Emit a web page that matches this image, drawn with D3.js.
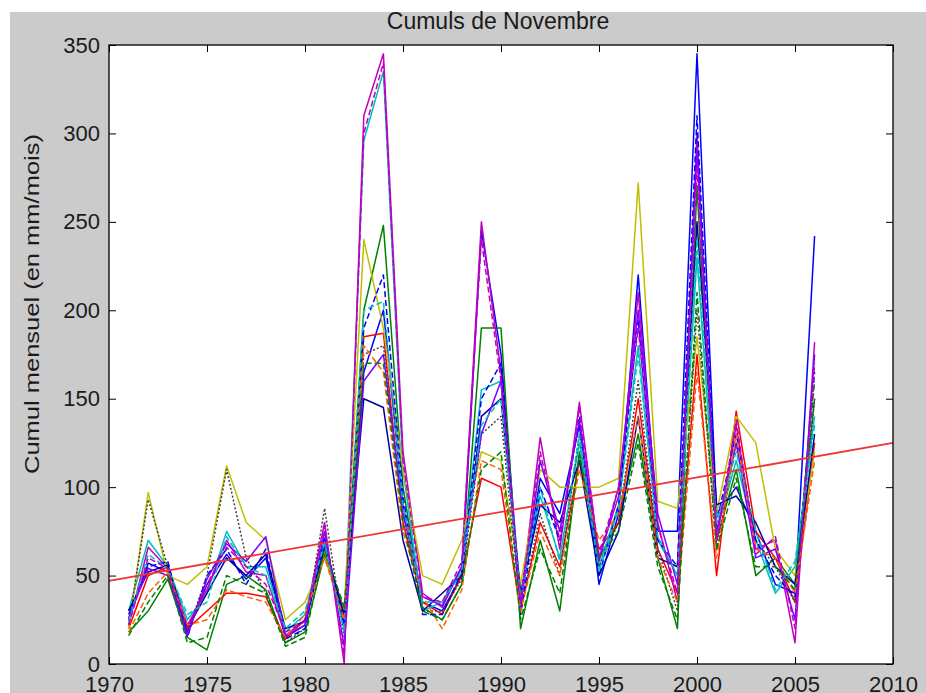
<!DOCTYPE html>
<html>
<head>
<meta charset="utf-8">
<script src="https://cdn.jsdelivr.net/npm/d3@7/dist/d3.min.js"></script>
<style>
body { margin: 0; background: #fff; }
svg text { font-family: "Liberation Sans", Arial, sans-serif; fill: #1a1a1a; }
</style>
</head>
<body>
<script>
// years of the November totals
var years = [1971,1972,1973,1974,1975,1976,1977,1978,1979,1980,1981,1982,1983,1984,1985,1986,1987,1988,
             1989,1990,1991,1992,1993,1994,1995,1996,1997,1998,1999,2000,2001,2002,2003,2004,2005,2006]

// one array per station (mm/month)
var stBlue     = [25,57,52,18,45,62,48,60,15,22,68,25,165,200,90,35,30,50,245,175,35,105,85,135,45,85,220,75,75,345,85,100,75,45,40,242]
var stGreen    = [18,30,48,15,8,45,50,42,12,18,62,25,200,248,100,32,25,45,190,190,20,70,30,120,60,80,130,60,20,270,70,110,50,60,45,150]
var stRed      = [20,50,55,20,30,40,40,38,14,25,65,30,185,187,80,35,28,50,105,100,30,80,55,115,65,80,150,65,40,175,50,143,75,60,35,125]
var stCyan     = [30,70,55,25,40,75,55,55,18,28,70,20,296,335,110,30,35,55,155,160,40,95,60,125,55,90,180,70,50,230,75,115,70,40,55,140]
var stMagenta  = [22,66,54,22,42,70,52,50,16,25,80,0,310,345,120,40,32,55,250,165,35,128,65,148,60,95,210,80,35,300,70,135,65,70,12,182]
var stYellow   = [20,97,50,45,55,112,80,70,25,35,60,30,240,190,110,50,45,70,120,115,45,110,100,100,100,105,272,92,88,185,85,140,125,65,50,120]
var stBlack    = [22,93,55,18,50,110,60,40,12,20,88,15,175,180,85,30,30,48,130,140,30,85,50,130,55,80,160,65,30,200,65,125,70,55,35,150]
var stBlueDash = [28,55,58,15,50,65,45,65,14,20,72,22,190,220,95,28,28,52,150,170,28,100,70,140,50,90,195,70,55,310,80,130,70,50,38,165]
var stNavy     = [30,52,56,20,40,60,50,62,20,24,66,28,150,145,70,30,40,50,140,150,40,90,80,115,50,75,140,60,55,250,90,95,80,55,45,130]
var stPurple   = [26,54,50,16,48,68,58,72,16,22,75,10,160,175,85,38,33,55,130,160,32,115,75,138,58,100,200,85,45,290,75,125,60,65,25,175]
var stOrange   = [18,40,52,22,25,42,38,35,15,28,60,25,180,165,75,38,20,42,115,110,30,75,50,110,70,85,140,60,35,165,60,130,65,60,40,115]
var stGreenDash= [16,35,50,12,15,50,45,40,10,15,65,32,170,170,80,30,25,45,110,120,25,65,40,118,60,75,125,55,25,210,65,105,55,55,42,160]
var stCyanDash = [24,62,54,28,35,72,55,50,20,30,68,18,200,205,90,35,35,52,135,150,38,100,58,130,52,88,175,72,50,240,80,120,75,42,58,135]
var stMagDash  = [22,60,54,20,45,66,55,45,18,24,78,5,300,340,115,38,35,58,240,160,35,120,70,145,62,100,190,78,40,280,70,138,62,72,20,170]

var stations = [stBlue, stGreen, stRed, stCyan, stMagenta, stYellow, stBlack,
                stBlueDash, stNavy, stPurple, stOrange, stGreenDash, stCyanDash, stMagDash]
var colors = ["#0000ff","#008000","#ff0000","#00bfbf","#bf00bf","#bfbf00","#404040",
              "#0000ff","#0000a0","#7f00ff","#ff6000","#008000","#00bfbf","#bf00bf"]
var dashes = [null,null,null,null,null,null,"2,2",
              "6,3",null,null,"6,3","6,3","6,3","6,3"]

// linear trend
var trendYears = [1970, 2010]
var trendValues = [47, 125]

var xTicks = [1970,1975,1980,1985,1990,1995,2000,2005,2010]
var yTicks = [0,50,100,150,200,250,300,350]

var width = 926, height = 693
var margin = {top: 45, right: 33, bottom: 29, left: 109}
var w = width - margin.left - margin.right
var h = height - margin.top - margin.bottom

var svg = d3.select("body").append("svg")
    .attr("width", width)
    .attr("height", height)

// figure background (matlab grey) with white edge strips
svg.append("rect").attr("width", width).attr("height", height).attr("fill", "#cbcbcb")
svg.append("rect").attr("width", width).attr("height", 12).attr("fill", "#fff")
svg.append("rect").attr("width", 10).attr("height", height).attr("fill", "#fff")

var g = svg.append("g").attr("transform", "translate(" + margin.left + "," + margin.top + ")")

var x = d3.scaleLinear().domain([1970, 2010]).range([0, w])
var y = d3.scaleLinear().domain([0, 350]).range([h, 0])

g.append("rect").attr("width", w).attr("height", h).attr("fill", "#fff")

g.append("clipPath").attr("id", "clip")
    .append("rect").attr("x", -1).attr("y", -1).attr("width", w + 2).attr("height", h + 2)

var line = d3.line()
    .x(function(d, i) { return x(years[i]); })
    .y(function(d) { return y(d); })

var lines = g.append("g").attr("clip-path", "url(#clip)")
for (var i = 0; i < stations.length; i++) {
    lines.append("path")
        .attr("d", line(stations[i]))
        .attr("fill", "none")
        .attr("stroke", colors[i])
        .attr("stroke-width", 1.5)
        .attr("stroke-dasharray", dashes[i])
        .attr("stroke-linejoin", "round")
}

lines.append("path")
    .attr("d", d3.line().x(function(d, i) { return x(trendYears[i]); }).y(function(d) { return y(d); })(trendValues))
    .attr("fill", "none")
    .attr("stroke", "#ee3434")
    .attr("stroke-width", 1.8)

// axes, ticks inside like matlab
var tickLen = 7
var xb = g.append("g").attr("transform", "translate(0," + h + ")")
    .call(d3.axisBottom(x).tickValues(xTicks).tickFormat(d3.format("d")).tickSizeInner(-tickLen).tickSizeOuter(0))
var xt = g.append("g")
    .call(d3.axisTop(x).tickValues(xTicks).tickFormat("").tickSizeInner(-tickLen).tickSizeOuter(0))
var yl = g.append("g")
    .call(d3.axisLeft(y).tickValues(yTicks).tickSizeInner(-tickLen).tickSizeOuter(0).tickPadding(9))
var yr = g.append("g").attr("transform", "translate(" + w + ",0)")
    .call(d3.axisRight(y).tickValues(yTicks).tickFormat("").tickSizeInner(-tickLen).tickSizeOuter(0))

g.selectAll(".domain").remove()
g.selectAll(".tick line").attr("stroke", "#000")
g.selectAll(".tick text").style("font-size", "22px").attr("fill", "#1a1a1a")
xb.selectAll(".tick text").attr("y", 28).attr("dy", "0")

g.append("rect").attr("width", w).attr("height", h)
    .attr("fill", "none").attr("stroke", "#000").attr("stroke-width", 1.3)

// title and y label
svg.append("text")
    .attr("x", 498)
    .attr("y", 29)
    .attr("text-anchor", "middle")
    .style("font-size", "23px")
    .text("Cumuls de Novembre")

svg.append("text")
    .attr("transform", "translate(39,304) rotate(-90)")
    .attr("text-anchor", "middle")
    .attr("textLength", 340)
    .attr("lengthAdjust", "spacingAndGlyphs")
    .style("font-size", "21px")
    .text("Cumul mensuel (en mm/mois)")
</script>
</body>
</html>
